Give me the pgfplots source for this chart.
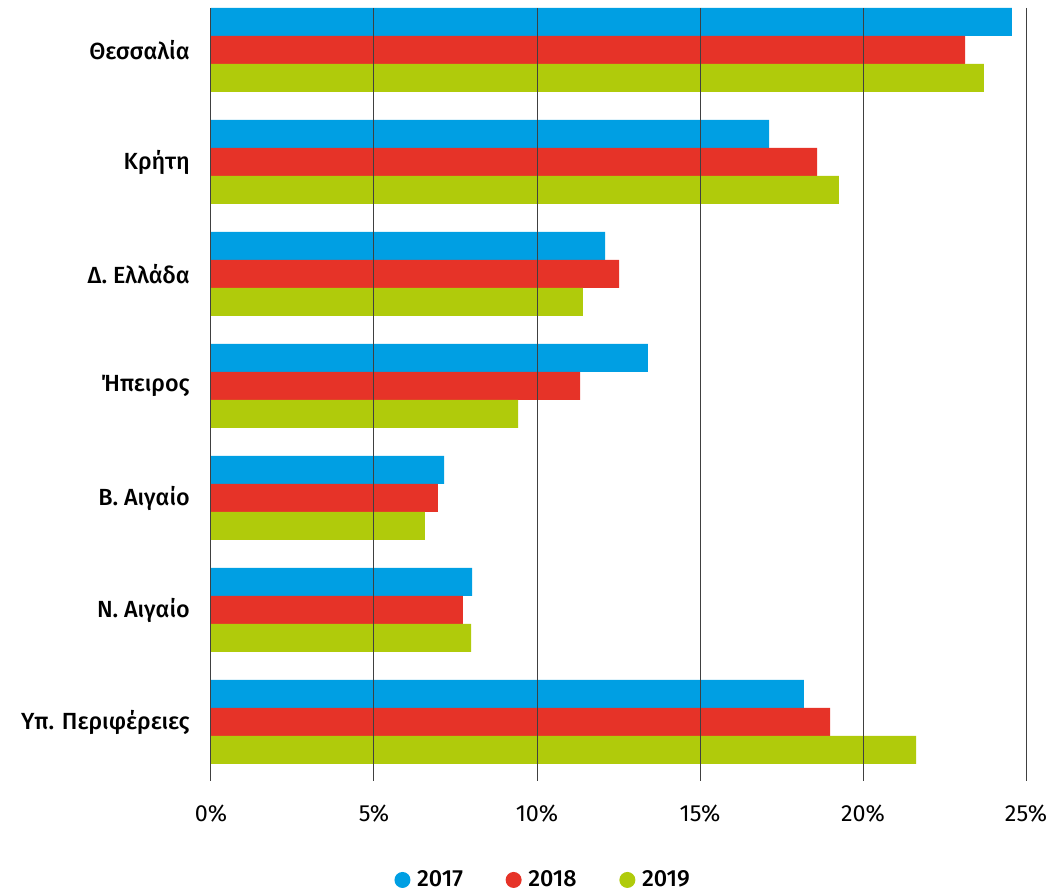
\documentclass[border=0pt]{standalone}
\usepackage{fontspec}
\setmainfont{Fira Sans}
\newfontfamily\medfont{Fira Sans Medium}
\usepackage{pgfplots}
\pgfplotsset{compat=1.18}
\definecolor{c17}{HTML}{009FE3}
\definecolor{c18}{HTML}{E63328}
\definecolor{c19}{HTML}{B0CB0B}
\begin{document}
\begin{tikzpicture}
\path (-158.25pt,-84pt) rectangle (636.75pt,585.75pt);
\begin{axis}[
    at={(0,0)}, anchor=south west,
    scale only axis,
    width=611.25pt, height=579.75pt,
    xbar, bar width=0.25,
    xmin=0, xmax=25,
    ymin=-0.375, ymax=6.527,
    y dir=reverse,
    xtick={0,5,10,15,20,25},
    xticklabel={\pgfmathprintnumber{\tick}\%},
    ytick={0,1,2,3,4,5,6},
    yticklabels={Θεσσαλία, Κρήτη, Δ. Ελλάδα, Ήπειρος, Β. Αιγαίο, Ν. Αιγαίο, Υπ. Περιφέρειες},
    /pgf/number format/assume math mode=true,
    xmajorgrids,
    major grid style={black!75, line width=0.75pt},
    axis line style={draw=none},
    major tick length=0,
    axis on top,
    tick label style={font=\fontsize{17.5}{20}\selectfont},
    yticklabel style={font=\medfont\fontsize{17.5}{20}\selectfont, anchor=east, inner sep=0pt, xshift=-15.75pt},
    xticklabel style={anchor=north, inner sep=0pt, yshift=-18pt},
    legend style={at={(0.408,-0.128)}, anchor=center, draw=none, fill=none,
        font=\medfont\fontsize{17.5}{20}\selectfont,
        /tikz/every odd column/.append style={column sep=3pt},
        /tikz/every even column/.append style={column sep=30pt}},
    legend columns=3,
    legend image code/.code={\fill[#1] (0pt,0pt) circle (6pt);},
]
\addplot[fill=c17, draw=none, bar shift=-0.25, forget plot] coordinates {
    (24.57,0) (17.12,1) (12.09,2) (13.40,3) (7.15,4) (8.01,5) (18.19,6)
};
\addplot[fill=c18, draw=none, bar shift=0, forget plot] coordinates {
    (23.13,0) (18.59,1) (12.52,2) (11.32,3) (6.96,4) (7.73,5) (18.99,6)
};
\addplot[fill=c19, draw=none, bar shift=0.25, forget plot] coordinates {
    (23.71,0) (19.26,1) (11.41,2) (9.42,3) (6.56,4) (7.98,5) (21.63,6)
};
\addlegendimage{fill=c17, draw=none}
\addlegendentry{2017}
\addlegendimage{fill=c18, draw=none}
\addlegendentry{2018}
\addlegendimage{fill=c19, draw=none}
\addlegendentry{2019}
\end{axis}
\end{tikzpicture}
\end{document}
